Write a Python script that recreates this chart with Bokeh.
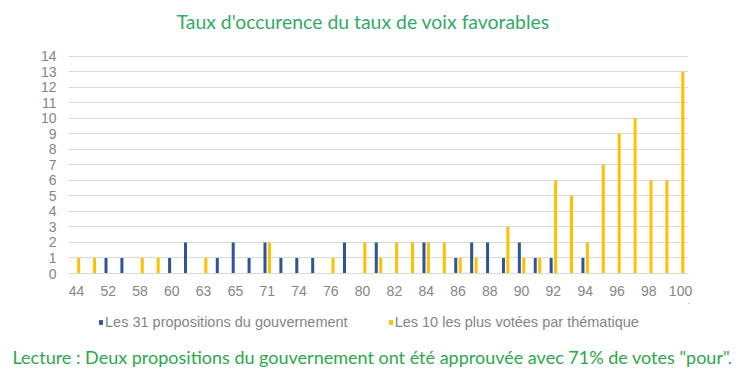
from bokeh.plotting import figure
from bokeh.layouts import column
from bokeh.models import Range1d, Legend, LegendItem, ColumnDataSource, FixedTicker, Title
from bokeh.transform import dodge
from bokeh.embed import file_html
from bokeh.resources import INLINE

categories = ["44", "48", "52", "55", "58", "59", "60", "62", "63", "64", "65", "67", "71",
              "72", "74", "75", "76", "78", "80", "81", "82", "83", "84", "85", "86", "87",
              "88", "89", "90", "91", "92", "93", "94", "95", "96", "97", "98", "99", "100"]
gouvernement = [0, 0, 1, 1, 0, 0, 1, 2, 0, 1, 2, 1, 2, 1, 1, 1, 0, 2, 0, 2,
                0, 0, 2, 0, 1, 2, 2, 1, 2, 1, 1, 0, 1, 0, 0, 0, 0, 0, 0]
thematique = [1, 1, 0, 0, 1, 1, 0, 0, 1, 0, 0, 0, 2, 0, 0, 0, 1, 0, 2, 1,
              2, 2, 2, 2, 1, 1, 0, 3, 1, 1, 6, 5, 2, 7, 9, 10, 6, 6, 13]
shown_labels = ["44", "52", "58", "60", "63", "65", "71", "74", "76", "80", "82", "84",
                "86", "88", "90", "92", "94", "96", "98", "100"]
y_ticks = [0, 1, 2, 3, 4, 5, 6, 7, 8, 9, 10, 11, 12, 13, 14]
series_names = ["Les 31 propositions du gouvernement", "Les 10 les plus votées par thématique"]
title_text = "Taux d'occurence du taux de voix favorables"
note_text = 'Lecture : Deux propositions du gouvernement ont été approuvée avec 71% de votes "pour".'

BLUE = "#2F5597"
YELLOW = "#FFC000"
GRAY = "#858585"
TICKFONT = "Liberation Sans"

idx = list(range(len(categories)))
src = ColumnDataSource(dict(idx=idx, cat=categories, gov=gouvernement, them=thematique))

W = 738
H1 = 303
H2 = 64

# y range extends a little above the last tick so the title sits higher
p = figure(width=W, height=H1, output_backend="svg", toolbar_location=None,
           x_range=Range1d(-0.5, len(categories) - 0.5), y_range=Range1d(0, 15.0),
           min_border_left=68, min_border_right=50, min_border_top=40, min_border_bottom=30)
p.outline_line_color = None

r1 = p.vbar(x=dodge("idx", -0.14), top="gov", width=0.19, source=src,
            fill_color=BLUE, line_color=None)
r2 = p.vbar(x=dodge("idx", 0.14), top="them", width=0.19, source=src,
            fill_color=YELLOW, line_color=None)

p.title.text = title_text
p.title.align = "left"
p.title.offset = 108
p.title.standoff = 15
p.title.text_color = "#33AA66"
p.title.text_font = "Lato"
p.title.text_font_size = "19.4px"
p.title.text_font_style = "normal"

p.xgrid.grid_line_color = None
p.ygrid.grid_line_color = "#D9D9D9"
p.yaxis.ticker = FixedTicker(ticks=y_ticks)
p.yaxis.axis_line_color = None
p.yaxis.major_tick_line_color = None
p.yaxis.minor_tick_line_color = None
p.yaxis.major_tick_out = 0
p.yaxis.major_label_text_color = GRAY
p.yaxis.major_label_text_font = TICKFONT
p.yaxis.major_label_text_font_size = "14px"
p.yaxis.major_label_standoff = 12

p.xaxis.ticker = FixedTicker(ticks=[i for i, c in zip(idx, categories) if c in shown_labels])
p.xaxis.major_label_overrides = {i: c for i, c in zip(idx, categories)}
p.xaxis.axis_line_color = "#D9D9D9"
p.xaxis.major_tick_line_color = None
p.xaxis.minor_tick_line_color = None
p.xaxis.major_tick_out = 0
p.xaxis.major_label_text_color = GRAY
p.xaxis.major_label_text_font = TICKFONT
p.xaxis.major_label_text_font_size = "14px"
p.xaxis.major_label_standoff = 12

# lower strip: legend + reading note (legend glyphs reuse the same data, kept out of view)
p2 = figure(width=W, height=H2, output_backend="svg", toolbar_location=None,
            x_range=Range1d(-10, -9), y_range=Range1d(-2, -1),
            min_border_left=68, min_border_right=50, min_border_top=0, min_border_bottom=0)
p2.axis.visible = False
p2.grid.grid_line_color = None
p2.outline_line_color = None
d1 = p2.vbar(x="idx", top="gov", width=0.19, source=src, fill_color=BLUE, line_color=None)
d2 = p2.vbar(x="idx", top="them", width=0.19, source=src, fill_color=YELLOW, line_color=None)

legend = Legend(items=[LegendItem(label=series_names[0], renderers=[d1]),
                       LegendItem(label=series_names[1], renderers=[d2])],
                orientation="horizontal", location=(30, 13),
                label_text_font=TICKFONT, label_text_font_size="14.5px", label_text_color=GRAY,
                label_height=14, glyph_width=5, glyph_height=6, label_standoff=2, spacing=40,
                border_line_color=None, background_fill_alpha=0, margin=0, padding=0)
p2.add_layout(legend, "center")

note = Title(text=note_text, align="left", offset=-56, text_color="#2CA84A", text_font="Lato",
             text_font_size="18px", text_font_style="normal", standoff=0)
p2.add_layout(note, "below")

layout = column(p, p2, spacing=0)
open("out.html", "w").write(file_html(layout, INLINE))
